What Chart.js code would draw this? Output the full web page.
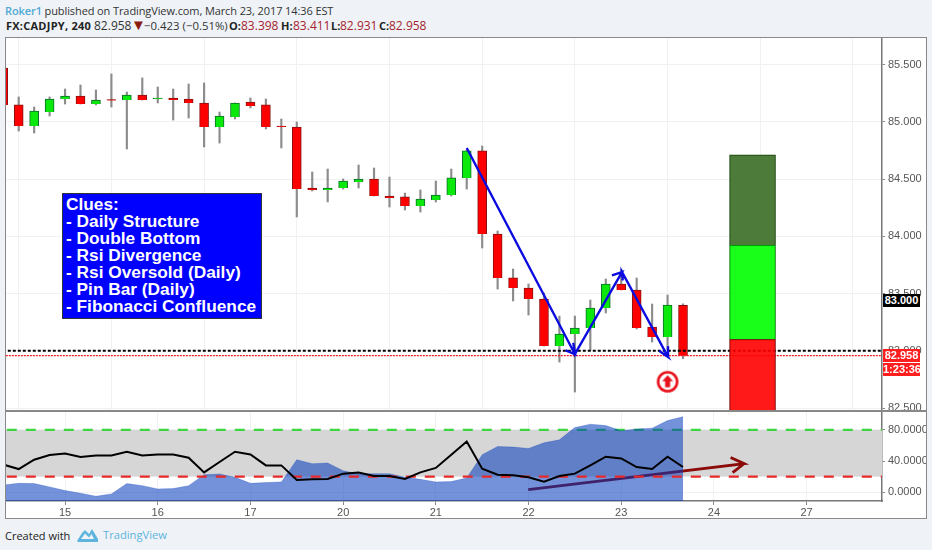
<!DOCTYPE html>
<html>
<head>
<meta charset="utf-8">
<script src="https://cdn.jsdelivr.net/npm/chart.js@4/dist/chart.umd.min.js"></script>
<style>
    html, body { margin: 0; padding: 0; }
    body { width: 932px; height: 550px; background: #eff3f7; position: relative; overflow: hidden; font-family: "Open Sans", sans-serif; }
    .head { position: absolute; left: 5px; white-space: nowrap; color: #333; }
    .q { position: absolute; top: 17px; white-space: nowrap; font-size: 12px; color: #333; }
    .q.b { font-weight: bold; font-size: 11px; top: 18px; color: #222; }
    .q.dn { color: #a5232d; }
    .up { color: #4ea9d4; font-weight: 600; }
    #frame { position: absolute; left: 5px; top: 37px; width: 920px; height: 480px; background: #fff; border: 1px solid #888; }
    #split { position: absolute; left: 5px; top: 410px; width: 921px; height: 1.5px; background: #888; }
    canvas { position: absolute; left: 6px; }
    #clues { position: absolute; left: 62px; top: 193px; width: 195px; height: 122px; background: #0000ff; border: 1px solid #333; color: #fff; font: bold 17.3px/17px "Liberation Sans", sans-serif; padding: 2px 0 0 3px; white-space: pre; }
    .tag { position: absolute; left: 883px; width: 37px; height: 13px; color: #fff; font: bold 11px/13px "Liberation Sans", sans-serif; text-align: center; }
</style>
</head>
<body>
<div class="head" style="top:3px;font-size:11px;letter-spacing:-.1px"><span class="up">Roker1</span> published on TradingView.com, March 23, 2017 14:36 EST</div>
<span class="q b" style="left:6px;letter-spacing:.25px">FX:CADJPY, 240</span>
<span class="q" style="left:94px">82.958</span>
<span class="q" style="left:131px;color:#8b1a10;font-size:15px;top:14px">▼</span>
<span class="q" style="left:144px;font-size:11.4px;top:18px">−0.423 (−0.51%)</span>
<span class="q b" style="left:229px">O:</span><span class="q dn" style="left:241px">83.398</span>
<span class="q b" style="left:281px">H:</span><span class="q dn" style="left:293px">83.411</span>
<span class="q b" style="left:331px">L:</span><span class="q dn" style="left:340px">82.931</span>
<span class="q b" style="left:379px">C:</span><span class="q dn" style="left:389px">82.958</span>
<div id="frame"></div>
<canvas id="price-chart" style="top:38px"></canvas>
<canvas id="osc-chart" style="top:411px"></canvas>
<div id="split"></div>
<div id="clues">Clues:
- Daily Structure
- Double Bottom
- Rsi Divergence
- Rsi Oversold (Daily)
- Pin Bar (Daily)
- Fibonacci Confluence</div>
<div class="tag" style="top:294px;background:#000">83.000</div>
<div class="tag" style="top:349px;background:#ff1f1f">82.958</div>
<div class="tag" style="top:363px;background:#ff1f1f">1:23:36</div>
<div class="head" style="top:528px;font-size:11px;color:#222">Created with</div>
<svg style="position:absolute;left:77px;top:528px" width="21" height="14" viewBox="0 0 21 14"><path d="M0 13 L5 5 L8 2 L12 6 L15 1 L21 11 L21 14 L1 14 Z M4 11 L17 11 L14.5 6 L12 9.5 L8 5.5 Z" fill="#5db4dc" fill-rule="evenodd"/></svg>
<div class="head" style="left:103px;top:527px;font-size:11.2px;color:#5db4dc">TradingView</div>

<script>
// Candles, first one sits half outside the left edge
const opens = [85.472, 85.149, 84.965, 85.087, 85.201, 85.227, 85.157, 85.192, 85.192, 85.236, 85.201, 85.210, 85.201, 85.166, 84.956, 85.044, 85.175, 85.149, 84.961, 84.956, 84.423, 84.406, 84.423, 84.476, 84.502, 84.353, 84.345, 84.266, 84.318, 84.362, 84.511, 84.747, 84.021, 83.637, 83.549, 83.453, 83.042, 83.147, 83.200, 83.374, 83.584, 83.532, 83.208, 83.121, 83.398];
const highs = [85.472, 85.219, 85.131, 85.219, 85.288, 85.323, 85.280, 85.420, 85.262, 85.385, 85.306, 85.288, 85.332, 85.341, 85.087, 85.166, 85.210, 85.201, 85.026, 85.000, 84.563, 84.589, 84.502, 84.624, 84.598, 84.519, 84.379, 84.406, 84.484, 84.589, 84.755, 84.790, 84.047, 83.715, 83.584, 83.505, 83.304, 83.304, 83.444, 83.628, 83.715, 83.637, 83.409, 83.488, 83.411];
const lows = [85.140, 84.921, 84.904, 85.052, 85.157, 85.157, 85.149, 85.131, 84.764, 85.192, 85.166, 85.017, 85.035, 84.782, 84.816, 85.026, 85.122, 84.939, 84.773, 84.170, 84.397, 84.301, 84.414, 84.423, 84.353, 84.257, 84.231, 84.213, 84.301, 84.353, 84.414, 83.899, 83.540, 83.436, 83.313, 83.042, 82.902, 82.640, 83.007, 83.331, 83.532, 83.191, 83.077, 83.007, 82.931];
const closes = [85.149, 84.965, 85.096, 85.201, 85.227, 85.157, 85.192, 85.188, 85.236, 85.192, 85.210, 85.192, 85.166, 84.956, 85.052, 85.166, 85.140, 84.956, 84.956, 84.414, 84.406, 84.423, 84.484, 84.502, 84.353, 84.336, 84.266, 84.327, 84.362, 84.511, 84.747, 84.021, 83.637, 83.549, 83.453, 83.042, 83.147, 83.200, 83.374, 83.584, 83.532, 83.200, 83.121, 83.401, 82.958];

// Oscillator pane
const oscArea = [9.3, 11.5, 11.1, 6.9, 2.2, -1.2, -5.1, -2.1, 11.1, 8.5, 4.3, 4.7, 8.5, 22.6, 23.5, 19.2, 11.5, 12.4, 13.3, 41.8, 36.7, 37.5, 27.7, 23.5, 23.9, 23.9, 19.2, 16.6, 13.3, 13.7, 18.4, 48.1, 58.8, 58, 56.2, 63.5, 67.3, 83, 87.3, 85.6, 78.8, 81.3, 82.2, 92, 97];
const oscLine = [35.5, 29.8, 41.8, 47.8, 49.8, 45.2, 47.3, 47.3, 52, 47.3, 48.6, 48.6, 44.3, 25.5, 38.8, 52, 48.6, 34.5, 34.5, 15.8, 16.6, 17.1, 23.9, 25.5, 20.9, 20.9, 17.1, 25.5, 31.2, 48.1, 65.1, 30.3, 22.6, 21.7, 19.2, 13.7, 20.9, 23.9, 34.5, 45.6, 43.4, 32.4, 29.9, 45.6, 32.4];

// Axes
const dayTicks = [3, 9, 15, 21, 27, 33, 39, 45, 51];
const dayLabels = ['15', '16', '17', '20', '21', '22', '23', '24', '27'];
const priceTicks = [82.5, 83, 83.5, 84, 84.5, 85, 85.5];
const oscTicks = [0, 40, 80];
const xRange = [-0.822, 55.88];

// Levels
const levelLine = 83.0;
const lastPrice = 82.958;
const oscUpper = 80;
const oscLower = 20;

// Hand drawn blue zigzag with arrow heads, as bar index and price
const zigzagX = [29.0, 36.0, 35.4, 36.0, 35.9, 36.0, 39.05, 38.4, 39.05, 39.1, 39.05, 42.03, 41.45, 42.03, 42.03, 42.03];
const zigzagY = [84.773, 82.972, 83.005, 82.972, 83.07, 82.972, 83.689, 83.66, 83.689, 83.615, 83.689, 82.946, 83.0, 82.946, 83.04, 82.946];

// Position tool block
const blockX = 47.5;
const blockLevels = [84.714, 83.925, 83.101, 82.4];

// Signal marker
const markerX = 42;
const markerY = 82.73;

// Dark red arrow in the oscillator pane
const arrowX = [32.98, 46.96, 46.08, 46.96, 46.21];
const arrowY = [3.4, 36.7, 44.7, 36.7, 25.2];

const indexes = opens.map((_, i) => i - 1);
const toPoints = (xs, ys) => xs.map((x, i) => ({ x: x, y: ys[i] }));
const levelPoints = (value) => [{ x: -2, y: value }, { x: 57, y: value }];
const bodyFill = (ctx) => closes[ctx.dataIndex] >= opens[ctx.dataIndex] ? '#0be80b' : '#ff0000';
const bodyEdge = (ctx) => closes[ctx.dataIndex] >= opens[ctx.dataIndex] ? '#0a6e2a' : '#8a1010';

function signalMarker() {
    const c = document.createElement('canvas');
    c.width = 24;
    c.height = 24;
    const g = c.getContext('2d');
    g.strokeStyle = '#e8101a';
    g.fillStyle = '#e8101a';
    g.lineWidth = 2.6;
    g.beginPath();
    g.arc(12, 12, 9.5, 0, Math.PI * 2);
    g.stroke();
    g.beginPath();
    g.moveTo(12, 5.5);
    g.lineTo(17.5, 11.5);
    g.lineTo(14.5, 11.5);
    g.lineTo(14.5, 17.5);
    g.lineTo(9.5, 17.5);
    g.lineTo(9.5, 11.5);
    g.lineTo(6.5, 11.5);
    g.closePath();
    g.fill();
    return c;
}

function lineSet(points, color, width, order, dash) {
    return {
        type: 'line',
        data: points,
        borderColor: color,
        borderWidth: width,
        borderDash: dash || [],
        pointRadius: 0,
        tension: 0,
        order: order
    };
}

// The tick labels must not push the plot area in, panes have to line up exactly
function noPadding(scale) {
    scale.paddingTop = 0;
    scale.paddingBottom = 0;
    scale.paddingLeft = 0;
    scale.paddingRight = 0;
}

function xAxis(showLabels, height) {
    return {
        type: 'linear',
        min: xRange[0],
        max: xRange[1],
        offset: false,
        afterBuildTicks: (scale) => { scale.ticks = dayTicks.map(v => ({ value: v })); },
        afterFit: (scale) => { scale.height = height; noPadding(scale); },
        grid: { color: '#f0f1f3', tickColor: '#888', tickLength: 4, drawTicks: showLabels },
        border: { display: showLabels, color: '#777', width: 1.5 },
        ticks: {
            display: showLabels,
            autoSkip: false,
            maxRotation: 0,
            padding: 1,
            color: '#555',
            font: { family: 'Liberation Sans', size: 11 },
            callback: (value) => dayLabels[dayTicks.indexOf(value)]
        }
    };
}

function yAxis(min, max, tickValues, digits) {
    return {
        position: 'right',
        min: min,
        max: max,
        afterBuildTicks: (scale) => { scale.ticks = tickValues.map(v => ({ value: v })); },
        afterFit: (scale) => { scale.width = 44; noPadding(scale); },
        grid: { color: '#f0f1f3', tickColor: '#888', tickLength: 3 },
        border: { color: '#777', width: 1.5 },
        ticks: {
            padding: 3,
            color: '#555',
            font: { family: 'Liberation Sans', size: 11 },
            callback: (value) => value.toFixed(digits)
        }
    };
}

// Upper pane with candles
const priceCanvas = document.getElementById('price-chart');
priceCanvas.width = 920;
priceCanvas.height = 372;
priceCanvas.style.width = '920px';
priceCanvas.style.height = '372px';

new Chart(priceCanvas.getContext('2d'), {
    type: 'bar',
    data: {
        datasets: [
            lineSet(toPoints(zigzagX, zigzagY), '#0b0be0', 2.4, 0),
            {
                type: 'scatter',
                data: [{ x: markerX, y: markerY }],
                pointStyle: signalMarker(),
                order: 1
            },
            { data: [{ x: blockX, y: [blockLevels[0], blockLevels[1]] }], backgroundColor: 'rgba(62,112,40,0.92)', borderColor: '#1e4a12', borderWidth: 1, barThickness: 46, grouped: false, order: 2 },
            { data: [{ x: blockX, y: [blockLevels[1], blockLevels[2]] }], backgroundColor: 'rgba(0,255,0,0.9)', borderColor: '#0a7a0a', borderWidth: 1, barThickness: 46, grouped: false, order: 2 },
            { data: [{ x: blockX, y: [blockLevels[2], blockLevels[3]] }], backgroundColor: 'rgba(255,0,0,0.9)', borderColor: '#7a1010', borderWidth: 1, barThickness: 46, grouped: false, order: 2 },
            lineSet(levelPoints(levelLine), '#000', 2, 3, [3, 2]),
            lineSet(levelPoints(lastPrice), '#f01822', 1.2, 3, [2, 1]),
            {
                data: indexes.map((x, i) => ({ x: x, y: [opens[i], closes[i]] })),
                backgroundColor: bodyFill,
                borderColor: bodyEdge,
                borderWidth: 1,
                barThickness: 9,
                minBarLength: 1,
                grouped: false,
                order: 4
            },
            {
                data: indexes.map((x, i) => ({ x: x, y: [lows[i], highs[i]] })),
                backgroundColor: '#8c8c8c',
                barThickness: 1.5,
                grouped: false,
                order: 5
            }
        ]
    },
    options: {
        responsive: false,
        animation: false,
        layout: { padding: 0, autoPadding: false },
        plugins: { legend: { display: false }, tooltip: { enabled: false } },
        scales: {
            x: xAxis(false, 0),
            y: yAxis(82.483, 85.734, priceTicks, 3)
        }
    }
});

// Lower pane
const oscCanvas = document.getElementById('osc-chart');
oscCanvas.width = 920;
oscCanvas.height = 106;
oscCanvas.style.width = '920px';
oscCanvas.style.height = '106px';

const oscBand = lineSet(levelPoints(oscUpper), '#3ed63e', 2.2, 4, [10, 9]);
oscBand.fill = { target: { value: oscLower }, above: '#d6d6d6' };

const oscAreaSet = lineSet(toPoints(indexes, oscArea), 'rgba(0,56,188,0.25)', 1, 2);
oscAreaSet.fill = 'start';
oscAreaSet.backgroundColor = 'rgba(0,56,188,0.55)';

new Chart(oscCanvas.getContext('2d'), {
    type: 'line',
    data: {
        datasets: [
            lineSet(toPoints(indexes, oscLine), '#000', 2, 0),
            lineSet(levelPoints(oscLower), '#e62a2a', 2.2, 1, [10, 9]),
            oscAreaSet,
            lineSet(toPoints(arrowX, arrowY), '#8b0a0a', 2.8, 3),
            oscBand
        ]
    },
    options: {
        responsive: false,
        animation: false,
        layout: { padding: 0, autoPadding: false },
        plugins: { legend: { display: false }, tooltip: { enabled: false } },
        scales: {
            x: xAxis(true, 16),
            y: yAxis(-11.2, 104.3, oscTicks, 4)
        }
    }
});
</script>
</body>
</html>
